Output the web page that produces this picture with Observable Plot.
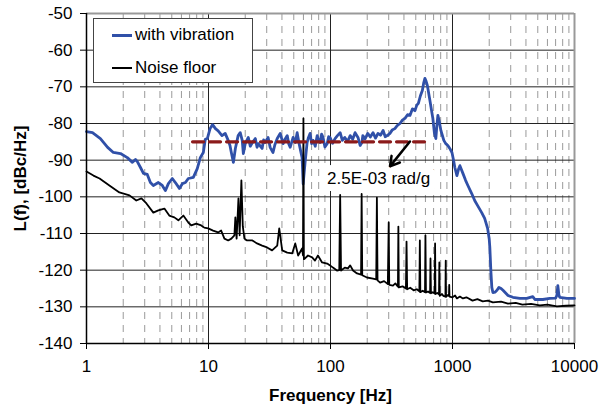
<!DOCTYPE html>
<html>
<head>
<meta charset="utf-8">
<script src="https://cdn.jsdelivr.net/npm/d3@7"></script>
<script src="https://cdn.jsdelivr.net/npm/@observablehq/plot@0.6"></script>
<style>
  html, body { margin: 0; padding: 0; background: #fff; }
  #wrap { position: relative; width: 600px; height: 406px; font-family: "Liberation Sans", Arial, sans-serif; }
  #legend { position: absolute; left: 93px; top: 18px; width: 158px; height: 63px; background: #fff; border: 1px solid #444; font-size: 17px; }
  .li { position: absolute; left: 18px; height: 20px; display: flex; align-items: center; }
  .sw { width: 20px; height: 0; margin-right: 3px; }
</style>
</head>
<body>
<div id="wrap">
  <div id="chart"></div>
  <div id="legend">
    <div class="li" style="top:6px"><span class="sw" style="border-top:3px solid #3050A8"></span>with vibration</div>
    <div class="li" style="top:39px"><span class="sw" style="border-top:2px solid #000"></span>Noise floor</div>
  </div>
</div>
<script>
// ---- data ----
const vibF = [1.0,1.12,1.30,1.49,1.66,1.90,2.16,2.38,2.52,2.61,2.77,2.93,3.15,3.34,3.53,3.88,4.18,4.43,4.69,5.05,5.35,5.77,6.11,6.47,6.83,7.51,8.09,8.57,9.07,9.41,9.78,10.3,10.8,11.4,12.0,12.9,13.7,14.5,15.0,15.4,16.0,16.6,17.5,18.2,18.9,19.3,20.0,21.2,22.0,22.9,24.2,25.0,25.6,27.5,28.3,29.1,30.8,32.0,33.8,35.0,36.6,38.7,40.9,42.5,44.2,45.5,46.7,49.4,51.5,53.3,55.3,58.5,59.7,61.8,64.3,66,68.1,70,72.0,75,77.8,80,82.2,84.5,86.9,90,93.9,96.5,99.2,104,109,114,120,125,131,138,145,152,159,168,175,181,184,192,202,212,223,234,245,257,270,281,292,307,320,337,352,371,390,408,428,448,470,492,510,525,545,566,580,594,608,622,653,690,710,730,745,759,780,803,825,849,880,916,950,990,1020,1045,1087,1120,1150,1217,1280,1337,1437,1520,1607,1735,1835,1940,2000,2023,2062,2100,2144,2230,2314,2403,2500,2594,2851,3130,3562,4060,4550,4740,5500,6270,7000,7170,7300,7450,7570,8660,10000];
const vibDb = [-82.2,-82.5,-84.1,-86.5,-87.9,-88.2,-89.3,-90.6,-89.8,-90.4,-92.0,-93.6,-93.9,-96.1,-96.9,-96.1,-96.9,-98.3,-96.4,-95.0,-96.1,-97.7,-96.4,-96.1,-95.0,-94.7,-92.3,-89.3,-87.9,-84.3,-84.1,-81.4,-80.3,-81.4,-82.0,-83.3,-82.7,-84.6,-86,-88.0,-90.6,-86.8,-83.3,-82.5,-84.6,-88.2,-85.5,-83.8,-86.2,-85.2,-84.1,-86.5,-85.5,-86.8,-84.5,-85.2,-83.8,-86.5,-87.9,-85.8,-84.1,-82.7,-85.5,-84.2,-83.3,-85.6,-86.5,-83.8,-85.2,-82.5,-85.5,-89.3,-96.5,-90.9,-85.2,-83.8,-82.7,-85.5,-84.6,-86.2,-83.3,-84.8,-85.2,-82.9,-83.8,-86.4,-85.5,-83.6,-83.8,-85.4,-84.1,-83.3,-82.5,-84.6,-83.8,-84.9,-83.3,-84.3,-82.5,-83.8,-86.0,-85.2,-83.3,-84.2,-82.7,-83.7,-82.5,-84.0,-82.7,-83.2,-81.9,-83.6,-83.3,-82.7,-81.8,-81.4,-80.6,-80.0,-79.0,-78.6,-77.6,-77.8,-76.0,-76.5,-75.0,-74.5,-72.5,-71.0,-69.0,-67.7,-68.5,-69.6,-73.7,-78.6,-82.5,-84.1,-80.5,-77.8,-79.5,-81.9,-83.2,-84.6,-85.5,-86.0,-86.8,-87.9,-90.0,-92.0,-94.2,-92.5,-91.5,-93.6,-95.5,-96.9,-99.1,-101.0,-102.4,-104.3,-105.9,-108.6,-111.5,-113.8,-120.1,-124.7,-126.1,-126.0,-125.5,-124.7,-125.0,-125.5,-126.9,-127.4,-127.7,-127.7,-127.2,-128.0,-128.0,-127.7,-127.6,-126.9,-124.2,-126.8,-127.4,-127.7,-127.7];

const floorF = [1,1.14,1.28,1.54,1.86,2.25,2.56,2.82,3.10,3.53,3.88,4.35,4.77,5.25,5.66,6.22,6.83,7.22,7.93,8.71,9.24,9.94,10.9,12.0,12.7,13.5,14.5,15.4,16.3,16.6,17.0,17.6,18.0,18.6,19.1,19.7,20.7,22.9,25.0,27.5,30.2,33.2,36.6,38.0,40.2,44.2,48.6,51.4,54.3,58.5,59.5,60,60.5,61.8,65.4,70.7,74.6,78.9,85.3,93.9,99.2,104.7,113,118,120,122,131,139,145,153,165,178,180,182,199,223,237,240,243,255,275,295,300,303,325,340,357,360,363,390,415,420,425,450,480,510,535,540,545,570,595,600,606,630,655,660,666,690,715,720,725,750,775,780,786,820,840,875,880,885,910,935,940,945,1000,1050,1087,1150,1217,1300,1460,1600,1770,1950,2144,2500,2851,3300,3740,4400,5190,6000,7170,8500,10000];
const floorDb = [-93.1,-94.2,-95.0,-96.9,-98.8,-99.6,-101.0,-100.4,-101.8,-104.3,-103.7,-103.2,-105.1,-105.6,-106.4,-105.1,-107.0,-107.8,-107.3,-107.8,-108.4,-108.6,-109.2,-109.7,-109.2,-111.4,-111.9,-111.4,-110.5,-105.6,-111.4,-100.4,-110.5,-95.5,-108,-111.4,-111.9,-111.9,-112.7,-113.3,-113.8,-114.6,-113.3,-108.6,-114.6,-115.2,-115.4,-112.7,-116.0,-114.1,-116,-78.6,-117,-116.8,-116.0,-116.5,-117.4,-116.0,-117.9,-118.2,-118.7,-119.3,-120.1,-120,-99.5,-120.1,-119.3,-119.5,-118.7,-120.1,-120.9,-121.2,-99.2,-121.4,-122.0,-122.3,-122.5,-100.2,-122.8,-123.4,-123.0,-123.8,-107,-124,-124.2,-123.6,-124.5,-108.1,-124.7,-124.4,-125,-112.2,-125.2,-124.8,-125.5,-125.2,-125.8,-111.9,-126,-125.6,-126,-110.5,-126.1,-125.8,-126.2,-116.8,-126.3,-126.0,-126.4,-112.7,-126.5,-126.2,-126.6,-117.9,-127,-126.5,-127,-127.2,-117.4,-127.3,-126.8,-127,-124,-127.2,-127.4,-126.9,-127.7,-127.2,-127.7,-127.4,-128.3,-127.9,-128.5,-128.3,-128.8,-128.6,-129.1,-128.9,-129.4,-129.2,-129.6,-129.4,-129.9,-129.7,-129.6];

const refLineF = [7.4, 630];
const refLineDb = [-85, -85];
const noteText = ["2.5E-03 rad/g"];
const noteF = [248];
const noteDb = [-95];
const arrowFrom = [448, -84.9];
const arrowTo = [307, -91.7];

const xTicks = [1, 10, 100, 1000, 10000];
const yTicks = [-140, -130, -120, -110, -100, -90, -80, -70, -60, -50];

// ---- build tables ----
const vib = vibF.map((f, i) => ({f, db: vibDb[i]}));
const floor = floorF.map((f, i) => ({f, db: floorDb[i]}));
const refLine = refLineF.map((f, i) => ({f, db: refLineDb[i]}));
const notes = noteText.map((t, i) => ({t, f: noteF[i], db: noteDb[i]}));
const minor = [];
for (const dec of [1, 10, 100, 1000]) for (let k = 2; k <= 9; k++) minor.push(dec * k);
const majors = [10, 100, 1000];
const hgrid = yTicks.filter(v => v > -140 && v < -50);

const chart = Plot.plot({
  width: 600,
  height: 406,
  marginLeft: 86,
  marginRight: 26,
  marginTop: 13,
  marginBottom: 63,
  style: {fontFamily: "'Liberation Sans', Arial, sans-serif", fontSize: "17px", color: "#000", background: "#fff"},
  x: {type: "log", domain: [1, 10000]},
  y: {domain: [-140, -50]},
  marks: [
    Plot.ruleX(minor, {stroke: "#9a9a9a", strokeWidth: 1, strokeDasharray: "7,6"}),
    Plot.ruleX(majors, {stroke: "#222", strokeWidth: 1}),
    Plot.ruleY(hgrid, {stroke: "#222", strokeWidth: 1}),
    Plot.ruleY([-50], {stroke: "#999", strokeWidth: 2}),
    Plot.ruleX([10000], {stroke: "#999", strokeWidth: 2}),
    Plot.line(vib, {x: "f", y: "db", stroke: "#3050A8", strokeWidth: 2.8, strokeLinejoin: "round"}),
    Plot.line(floor, {x: "f", y: "db", stroke: "#000", strokeWidth: 1.8, strokeLinejoin: "round"}),
    Plot.line(refLine, {x: "f", y: "db", stroke: "#8B1A1A", strokeWidth: 3.2, strokeDasharray: "11,6"}),
    Plot.arrow([0], {x1: () => arrowFrom[0], y1: () => arrowFrom[1], x2: () => arrowTo[0], y2: () => arrowTo[1], stroke: "#000", strokeWidth: 2.5, headLength: 10}),
    Plot.text(notes, {x: "f", y: "db", text: "t", fill: "#000", stroke: "#fff", strokeWidth: 14, strokeLinejoin: "round", fontSize: 17}),
    Plot.ruleX([1], {stroke: "#000", strokeWidth: 1.5}),
    Plot.ruleY([-140], {stroke: "#000", strokeWidth: 1.5}),
    Plot.axisY(yTicks, {tickSize: 6, tickPadding: 8, label: null, stroke: "#000", tickFormat: d => String(d)}),
    Plot.axisX(xTicks, {tickSize: 6, tickPadding: 10, label: null, tickFormat: d => String(d), stroke: "#000"}),
    Plot.text(["L(f), [dBc/Hz]"], {frameAnchor: "left", textAnchor: "middle", lineAnchor: "middle", rotate: -90, dx: -66, fontWeight: "bold", fontSize: 17}),
    Plot.text(["Frequency [Hz]"], {frameAnchor: "bottom", textAnchor: "middle", lineAnchor: "middle", dy: 52, fontWeight: "bold", fontSize: 17})
  ]
});
document.getElementById("chart").appendChild(chart);
</script>
</body>
</html>
